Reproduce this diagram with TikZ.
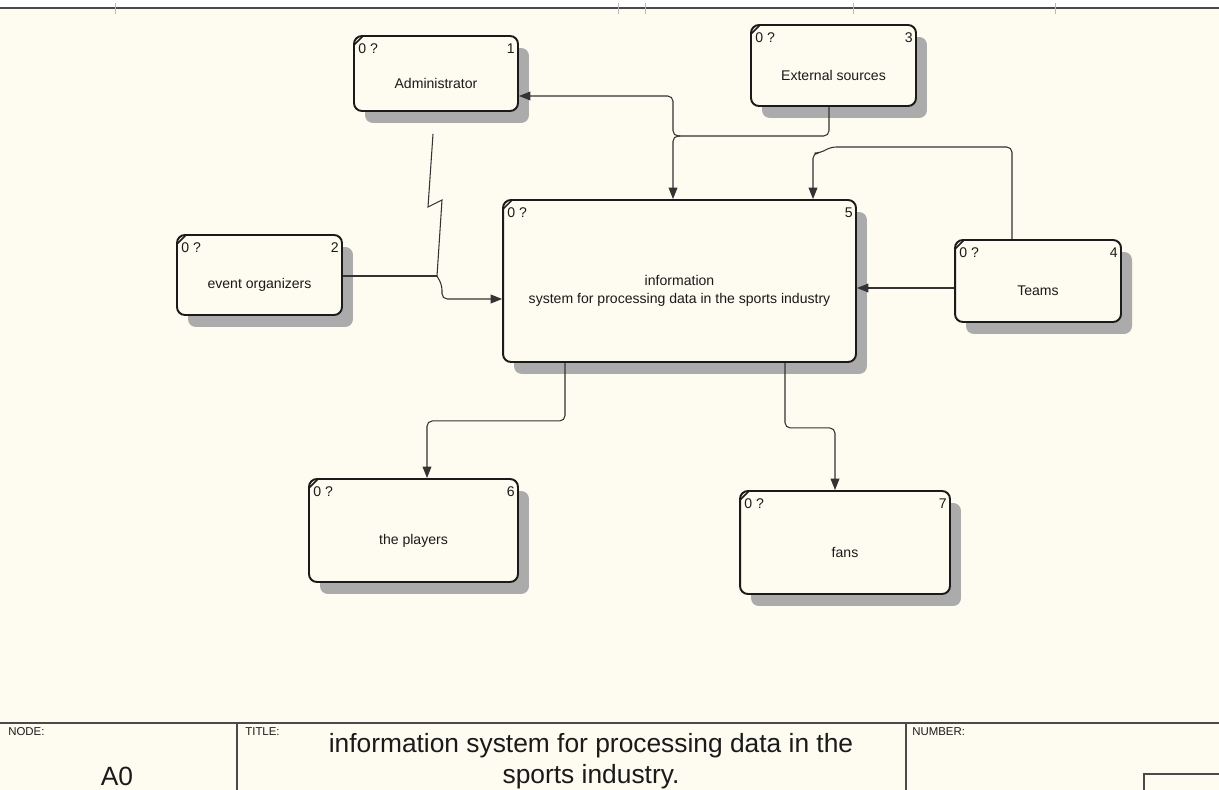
\documentclass[tikz,border=0pt]{standalone}
\usepackage{fontspec}
\setmainfont{Liberation Sans}
\usetikzlibrary{arrows.meta, calc, shadows}
\definecolor{paper}{HTML}{FEFBF0}
\definecolor{shade}{HTML}{ABABAB}
\definecolor{ink}{HTML}{1A1A1A}
\definecolor{wire}{HTML}{333333}
\definecolor{rule}{HTML}{4A4A4A}
\tikzset{
  extbox/.style={draw=ink, line width=1.1pt, fill=paper, rounded corners=4.5pt, inner sep=0pt,
    drop shadow={shadow xshift=0.22cm, shadow yshift=-0.24cm, fill=shade, opacity=1}},
  boxtxt/.style={font=\fontsize{8}{10.2}\selectfont, text=ink, align=center, inner sep=0pt},
  cornertxt/.style={font=\fontsize{8}{9.6}\selectfont, text=ink, inner sep=0pt},
  tagtxt/.style={font=\fontsize{6.5}{7.5}\selectfont, text=ink, inner sep=0pt},
}
% name, x, y, width (cm), height (cm), number, label
\newcommand{\ctxbox}[7]{%
  \node[extbox, minimum width=#4cm, minimum height=#5cm] (#1) at (#2,#3) {};
  \node[cornertxt, anchor=north west] (#1-id) at ($(#1.north west)+(5,8)$) {0 ?};
  \node[cornertxt, anchor=north east] (#1-no) at ($(#1.north east)+(-4,8)$) {#6};
  \node[boxtxt] (#1-txt) at ($(#1.center)+(0,10)$) {#7};
  \draw[ink, line width=0.9pt] ($(#1.north west)+(1,10)$) -- ($(#1.north west)+(10,1)$);%
}

\begin{document}
\begin{tikzpicture}[x=0.02cm, y=-0.02cm, >={Triangle[length=6.5pt,width=5pt]}]
    \tikzset{flow/.style={->, draw=wire, line width=0.6pt, rounded corners=3pt},
             wire/.style={draw=wire, line width=0.6pt, rounded corners=3pt}}

    % sheet
    \fill[white] (0,0) rectangle (1219,8);
    \fill[paper] (0,8) rectangle (1219,790);
    \useasboundingbox (0,0) rectangle (1219,790);
    \draw[rule, line width=1.2pt] (0,8) -- (1219,8);
    \foreach \tx in {115,618,645,853,1055}
      \draw[gray!55, line width=0.3pt] (\tx,3) -- (\tx,14);

    \ctxbox{adm}{436}{73.5}{3.28}{1.50}{1}{Administrator}
    \ctxbox{ext}{833.5}{65.5}{3.30}{1.62}{3}{External sources}
    \ctxbox{evt}{259.5}{275}{3.30}{1.60}{2}{event organizers}
    \ctxbox{sys}{679.5}{281}{7.06}{3.24}{5}{information\\system for processing data in the sports industry}
    \ctxbox{teams}{1038}{281}{3.32}{1.64}{4}{Teams}
    \ctxbox{ply}{413.5}{530.5}{4.18}{2.06}{6}{the players}
    \ctxbox{fans}{845}{542.5}{4.20}{2.06}{7}{fans}

    % external sources split to administrator and system
    \coordinate (fork) at (680,136);
    \coordinate (trunk) at (673,136);
    \draw[wire] ($(ext.south)+(-4.5,0)$) |- (fork);
    \draw[flow] (fork) -- (trunk) |- ($(adm.east)+(0,22.5)$);
    \draw[flow] (fork) -- (trunk) -- ($(sys.north)+(-6.5,0)$);

    % teams
    \coordinate (hopR) at (831,147);
    \coordinate (hopL) at (820,153);
    \draw[flow] ($(teams.north)+(-26,0)$) |- (hopR) -- (hopL) -| ($(sys.north)+(133.5,0)$);
    \draw[flow] ($(teams.west)+(0,7)$) -- ($(sys.east)+(0,7)$);

    % organizers and administrator join
    \coordinate (zigA) at (428,207);
    \coordinate (zigB) at (442,200);
    \coordinate (join) at (437,276);
    \coordinate (drop) at (442,285);
    \draw[wire, rounded corners=0pt] ($(adm.south)+(-3,22)$) -- (zigA) -- (zigB) -- (join);
    \draw[wire] ($(evt.east)+(0,1)$) -- (join);
    \draw[flow] (join) -- (drop) |- ($(sys.west)+(0,18)$);

    % outputs
    \draw[flow] ($(sys.south)+(-114.5,0)$) -- ++(0,58) -| ($(ply.north)+(13.5,0)$);
    \draw[flow] ($(sys.south)+(105.5,0)$) -- ++(0,65) -| ($(fans.north)+(-10,0)$);

    % title block
    \draw[rule, line width=1pt] (0,723) -- (1219,723);
    \draw[rule, line width=0.8pt] (237,723) -- (237,790);
    \draw[rule, line width=0.8pt] (906,723) -- (906,790);
    \draw[rule, line width=0.8pt] (1144,790) |- (1219,774);
    \node[tagtxt, anchor=north west] (nodetag) at (8,727) {NODE:};
    \node[tagtxt, anchor=north west] (titletag) at (245,727) {TITLE:};
    \node[tagtxt, anchor=north west] (numtag) at (912,727) {NUMBER:};
    \node[font=\fontsize{15}{17.6}\selectfont, text=ink] (anum) at (117,776) {A0};
    \node[font=\fontsize{15}{17.6}\selectfont, text=ink, align=center] (ttl) at (591,761)
      {information system for processing data in the\\sports industry.};
\end{tikzpicture}
\end{document}
